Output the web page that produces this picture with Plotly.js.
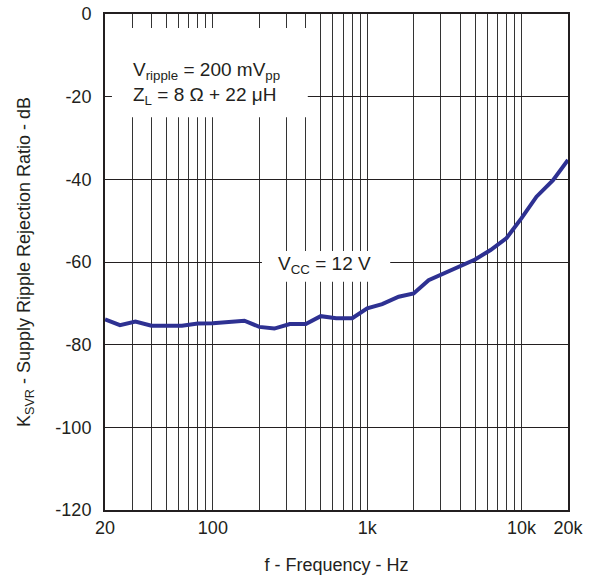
<!DOCTYPE html>
<html>
<head>
<meta charset="utf-8">
<script src="https://cdn.plot.ly/plotly-3.0.1.min.js"></script>
<style>html,body{margin:0;padding:0;background:#fff;}#chart{width:598px;height:578px;}</style>
</head>
<body>
<div id="chart"></div>
<script>
// Frequency (Hz)
const frequency = [20, 25, 31.5, 40, 50, 63, 80, 100, 160, 200, 250, 315, 400, 500, 630, 800,
  1000, 1250, 1600, 2000, 2500, 3150, 4000, 5000, 6300, 8000, 10000, 12500, 16000, 20000];
// Supply ripple rejection ratio (dB)
const ksvr = [-73.9, -75.3, -74.4, -75.4, -75.4, -75.4, -74.9, -74.8, -74.2, -75.7, -76.1, -75.0, -75.0, -73.1, -73.6, -73.6,
  -71.2, -70.2, -68.4, -67.6, -64.4, -62.7, -60.9, -59.4, -57.1, -54.2, -49.4, -44.2, -40.2, -35.3];

const xTickVals = [20, 100, 1000, 10000, 20000];
const xTickText = ['20', '100', '1k', '10k', '20k'];
const xMinorVals = [30, 40, 50, 60, 70, 80, 90, 200, 300, 400, 500, 600, 700, 800, 900,
  2000, 3000, 4000, 5000, 6000, 7000, 8000, 9000];
const yTickVals = [0, -20, -40, -60, -80, -100, -120];
const yTickText = ['0', '-20', '-40', '-60', '-80', '-100', '-120'];

const FONT = 'Liberation Sans, Arial, sans-serif';

const trace = {
  x: frequency, y: ksvr, type: 'scatter', mode: 'lines',
  line: {color: '#2E3192', width: 4}, hoverinfo: 'skip'
};

const layout = {
  width: 598, height: 578,
  margin: {l: 105, r: 30, t: 14, b: 68},
  paper_bgcolor: '#fff', plot_bgcolor: '#fff',
  showlegend: false,
  font: {family: FONT, size: 18, color: '#231f20'},
  xaxis: {
    type: 'log', range: [Math.log10(20), Math.log10(20000)],
    tickmode: 'array', tickvals: xTickVals, ticktext: xTickText,
    ticks: '', showgrid: true, gridcolor: '#333', gridwidth: 1,
    minor: {tickmode: 'array', tickvals: xMinorVals, showgrid: true, gridcolor: '#333', gridwidth: 1, ticks: ''},
    showline: true, mirror: true, linecolor: '#231f20', linewidth: 2,
    zeroline: false, automargin: false,
    tickfont: {family: FONT, size: 18, color: '#231f20'},
    title: {text: 'f - Frequency - Hz', font: {family: FONT, size: 18, color: '#231f20'}, standoff: 22}
  },
  yaxis: {
    range: [-120, 0], tickmode: 'array', tickvals: yTickVals, ticktext: yTickText,
    ticks: '', showgrid: true, gridcolor: '#231f20', gridwidth: 1,
    showline: true, mirror: true, linecolor: '#231f20', linewidth: 2,
    zeroline: false, automargin: false, ticklabelstandoff: 8,
    tickfont: {family: FONT, size: 18, color: '#231f20'},
    title: {text: 'K<sub>SVR</sub> - Supply Ripple Rejection Ratio - dB', font: {family: FONT, size: 18, color: '#231f20'}, standoff: 20}
  },
  shapes: [
    {type: 'rect', xref: 'paper', yref: 'paper', x0: 0.015, x1: 0.438, y0: 0.792, y1: 0.972,
     fillcolor: '#fff', line: {width: 0}, layer: 'above'},
    {type: 'rect', xref: 'paper', yref: 'paper', x0: 0.339, x1: 0.616, y0: 0.460, y1: 0.522,
     fillcolor: '#fff', line: {width: 0}, layer: 'above'}
  ],
  annotations: [
    {xref: 'paper', yref: 'paper', x: 0.056, y: 0.859, xanchor: 'left', yanchor: 'middle', align: 'left',
     showarrow: false, font: {family: FONT, size: 19, color: '#231f20'},
     text: 'V<sub>ripple</sub> = 200 mV<sub>pp</sub><br>Z<sub>L</sub> = 8 Ω + 22 μH'},
    {xref: 'paper', yref: 'paper', x: 0.474, y: 0.494, xanchor: 'center', yanchor: 'middle',
     showarrow: false, font: {family: FONT, size: 19, color: '#231f20'},
     text: 'V<sub>CC</sub> = 12 V'}
  ]
};

Plotly.newPlot('chart', [trace], layout, {displayModeBar: false, staticPlot: true});
</script>
</body>
</html>
